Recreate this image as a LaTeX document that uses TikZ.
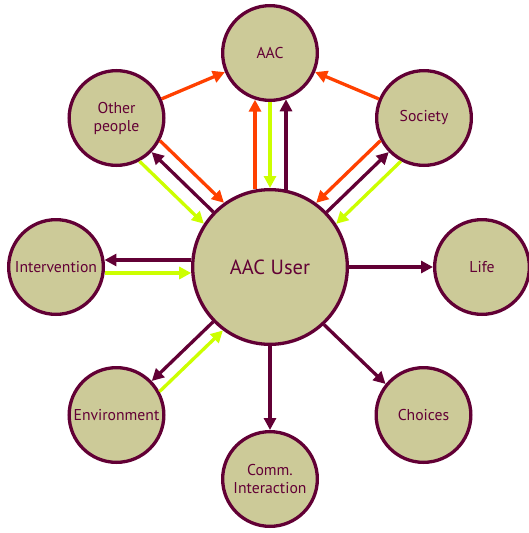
\documentclass[tikz,border=0pt]{standalone}
\usepackage{fontspec}
\setmainfont{PT Sans}
\usetikzlibrary{arrows.meta,calc}
\definecolor{khaki}{HTML}{CCCA98}
\definecolor{maroon}{HTML}{620035}
\definecolor{orng}{HTML}{FF4000}
\definecolor{lime}{HTML}{CCFF00}
\tikzset{
  ent/.style={circle,draw=maroon,fill=khaki,line width=3.3pt,inner sep=0pt,
    minimum size=94.7pt,text=maroon,font=\fontsize{15.7}{18}\selectfont,align=center},
  hub/.style={ent,minimum size=154.7pt,font=\fontsize{20.5}{24}\selectfont},
  arr/.style={line width=3.3pt,-{Triangle[length=12pt,width=12pt]}},
  mr/.style={arr,maroon},
  og/.style={arr,orng},
  lm/.style={arr,lime}
}
\newcommand\lnk[6]{%
  \pgfmathsetmacro\sa{sqrt(#5*#5-#4*#4)}%
  \pgfmathsetmacro\sb{sqrt(#6*#6-#4*#4)}%
  \draw[#1,shorten <=\sa pt,shorten >=\sb pt] ($(#2)!#4pt!90:(#3)$) -- ($(#3)!#4pt!-90:(#2)$);%
}
\begin{document}
\begin{tikzpicture}[x=1pt,y=1pt]
\useasboundingbox (0,0) rectangle (529,-533);
\node[ent] (aac) at (270,-53) {AAC};
\node[ent] (oth) at (116.5,-118) {Other\\people};
\node[ent] (soc) at (424,-118) {Society};
\node[ent] (int) at (56,-267) {Intervention};
\node[hub] (usr) at (270,-267) {AAC User};
\node[ent] (life) at (482,-267) {Life};
\node[ent] (env) at (116.5,-415) {Environment};
\node[ent] (cho) at (423.5,-415) {Choices};
\node[ent] (comm) at (270,-479) {Comm.\\Interaction};
% to AAC
\lnk{og}{oth}{aac}{0}{49}{49}
\lnk{og}{soc}{aac}{0}{49}{49}
\lnk{og}{usr}{aac}{15}{79}{49}
\lnk{lm}{aac}{usr}{0}{49}{79}
\lnk{mr}{usr}{aac}{-16}{79}{49}
% other people
\lnk{og}{oth}{usr}{14}{49}{79}
\lnk{mr}{usr}{oth}{0}{79}{49}
\lnk{lm}{oth}{usr}{-15}{49}{79}
% society
\lnk{og}{soc}{usr}{-14}{49}{79}
\lnk{mr}{usr}{soc}{0}{79}{49}
\lnk{lm}{soc}{usr}{15}{49}{79}
% intervention
\lnk{mr}{usr}{int}{-7}{79}{49}
\lnk{lm}{int}{usr}{-6}{49}{79}
% environment
\lnk{mr}{usr}{env}{0}{79}{49}
\lnk{lm}{env}{usr}{-13}{49}{79}
% others
\lnk{mr}{usr}{life}{0}{79}{49}
\lnk{mr}{usr}{cho}{-4}{79}{49}
\lnk{mr}{usr}{comm}{0}{79}{49}
\end{tikzpicture}
\end{document}
